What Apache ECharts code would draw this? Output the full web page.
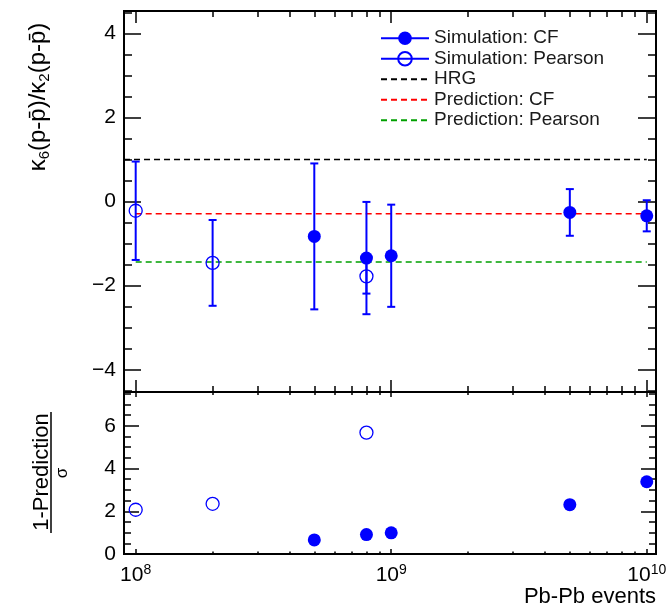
<!DOCTYPE html>
<html><head><meta charset="utf-8">
<script src="https://cdn.jsdelivr.net/npm/echarts@6/dist/echarts.min.js"></script>
<style>html,body{margin:0;padding:0;background:#fff}#c{width:668px;height:613px}</style>
</head><body><div id="c"></div>
<script>
// ---------------- data ----------------
const cfEvents = [5e8, 8e8, 1e9, 5e9, 1e10];
const cfValue = [-0.83, -1.345, -1.29, -0.26, -0.34];
const cfError = [1.735, 1.335, 1.215, 0.555, 0.37];
const cfSignificance = [0.66, 0.91, 0.99, 2.31, 3.38];

const pearsonEvents = [1e8, 2e8, 8e8];
const pearsonValue = [-0.22, -1.46, -1.78];
const pearsonError = [1.17, 1.02, 0.41];
const pearsonSignificance = [2.07, 2.35, 5.68];

const hrgLevel = 1.0;
const predictionCF = -0.29;
const predictionPearson = -1.44;
const hrgRange = [9e7, 1e10];
const predictionRange = [1e8, 1e10];

const xRange = [9e7, 1.087e10];
const yTopRange = [-4.53, 4.53];
const yBottomRange = [0, 7.58];

const xMajorTicks = [1e8, 1e9, 1e10];
const xMinorTicks = [2e8, 3e8, 4e8, 5e8, 6e8, 7e8, 8e8, 9e8, 2e9, 3e9, 4e9, 5e9, 6e9, 7e9, 8e9, 9e9];
const yTopMajorTicks = [-4, -2, 0, 2, 4];
const yTopMinorTicks = [-4.5, -4, -3.5, -3, -2.5, -2, -1.5, -1, -0.5, 0, 0.5, 1, 1.5, 2, 2.5, 3, 3.5, 4, 4.5];
const yBottomMajorTicks = [0, 2, 4, 6];
const yBottomMinorTicks = [0, 0.5, 1, 1.5, 2, 2.5, 3, 3.5, 4, 4.5, 5, 5.5, 6, 6.5, 7, 7.5];

const legendNames = ['Simulation: CF', 'Simulation: Pearson', 'HRG', 'Prediction: CF', 'Prediction: Pearson'];

// ---------------- style ----------------
const FONT = '"Liberation Sans", Arial, Helvetica, sans-serif';
const BLUE = '#0000ff';
const topRect = {left: 124, top: 11, width: 532, height: 381};
const botRect = {left: 124, top: 392, width: 532, height: 162};

function grid(rect) { return Object.assign({show: false, containLabel: false, outerBoundsMode: 'none'}, rect); }

function xAxis(gridIndex, position, ticks, len, withLabels) {
  return {
    type: 'log', logBase: 10, gridIndex, position, min: xRange[0], max: xRange[1],
    axisLine: {show: true, onZero: false, lineStyle: {color: '#000', width: 2}},
    axisTick: {show: true, inside: true, length: len, customValues: ticks, lineStyle: {color: '#000', width: 1.5}},
    axisLabel: withLabels ? {
      show: true, customValues: xMajorTicks, margin: 9,
      formatter: v => '{b|10}{s|' + Math.round(Math.log10(v)) + '}',
      rich: {
        b: {fontSize: 21, fontFamily: FONT, color: '#000', lineHeight: 24},
        s: {fontSize: 14, fontFamily: FONT, color: '#000', verticalAlign: 'top', lineHeight: 14}
      }
    } : {show: false},
    splitLine: {show: false}, minorTick: {show: false}, minorSplitLine: {show: false}
  };
}
function yAxis(gridIndex, position, range, ticks, len, labelTicks) {
  return {
    type: 'value', gridIndex, position, min: range[0], max: range[1],
    axisLine: {show: true, onZero: false, lineStyle: {color: '#000', width: 2}},
    axisTick: {show: true, inside: true, length: len, customValues: ticks, lineStyle: {color: '#000', width: 1.5}},
    axisLabel: labelTicks ? {
      show: true, customValues: labelTicks, margin: 8, fontSize: 21, fontFamily: FONT, color: '#000',
      formatter: v => v < 0 ? '\u2212' + Math.abs(v) : String(v)
    } : {show: false},
    splitLine: {show: false}, minorTick: {show: false}
  };
}

function errorBar(params, api) {
  const x = api.value(0);
  const lo = api.coord([x, api.value(1)]);
  const hi = api.coord([x, api.value(2)]);
  const half = 4;
  const style = {stroke: BLUE, lineWidth: 2};
  return {type: 'group', children: [
    {type: 'line', shape: {x1: lo[0], y1: lo[1], x2: hi[0], y2: hi[1]}, style},
    {type: 'line', shape: {x1: lo[0] - half, y1: lo[1], x2: lo[0] + half, y2: lo[1]}, style},
    {type: 'line', shape: {x1: hi[0] - half, y1: hi[1], x2: hi[0] + half, y2: hi[1]}, style}
  ]};
}

const hollow = {color: 'rgba(0,0,255,0)', borderColor: BLUE, borderWidth: 1.3, opacity: 1};
const filled = {color: BLUE, opacity: 1};
const noSymbol = {opacity: 0, color: 'rgba(0,0,0,0)', borderWidth: 0};

const chart = echarts.init(document.getElementById('c'), null, {renderer: 'canvas'});
chart.setOption({
  animation: false,
  backgroundColor: '#fff',
  grid: [grid(topRect), grid(topRect), grid(botRect), grid(botRect)],
  xAxis: [
    xAxis(0, 'bottom', xMajorTicks, 12, false), xAxis(0, 'top', xMajorTicks, 12, false),
    xAxis(1, 'bottom', xMinorTicks, 6, false), xAxis(1, 'top', xMinorTicks, 6, false),
    xAxis(2, 'bottom', xMajorTicks, 5, true), xAxis(2, 'top', xMajorTicks, 5, false),
    xAxis(3, 'bottom', xMinorTicks, 2.5, false), xAxis(3, 'top', xMinorTicks, 3, false)
  ],
  yAxis: [
    yAxis(0, 'left', yTopRange, yTopMajorTicks, 17, yTopMajorTicks), yAxis(0, 'right', yTopRange, yTopMajorTicks, 18, null),
    yAxis(1, 'left', yTopRange, yTopMinorTicks, 8, null), yAxis(1, 'right', yTopRange, yTopMinorTicks, 8, null),
    yAxis(2, 'left', yBottomRange, yBottomMajorTicks, 15, yBottomMajorTicks), yAxis(2, 'right', yBottomRange, yBottomMajorTicks, 15, null),
    yAxis(3, 'left', yBottomRange, yBottomMinorTicks, 7, null), yAxis(3, 'right', yBottomRange, yBottomMinorTicks, 7, null)
  ],
  legend: {
    orient: 'vertical', left: 375, top: 23, itemWidth: 48, itemHeight: 17, itemGap: 0,
    selectedMode: false,
    textStyle: {fontSize: 19, color: '#1a1a1a', fontFamily: FONT, padding: [0, 0, 0, 0], lineHeight: 20.5},
    data: [
      {name: legendNames[0], lineStyle: {width: 2, opacity: 1, type: 'solid', color: BLUE}},
      {name: legendNames[1], lineStyle: {width: 2, opacity: 1, type: 'solid', color: BLUE}},
      {name: legendNames[2], itemStyle: noSymbol},
      {name: legendNames[3], itemStyle: noSymbol},
      {name: legendNames[4], itemStyle: noSymbol}
    ]
  },
  series: [
    {name: 'HRG', type: 'line', xAxisIndex: 0, yAxisIndex: 0, data: hrgRange.map(x => [x, hrgLevel]),
     symbol: 'none', lineStyle: {color: '#000', width: 1.5, type: [6, 4]}, itemStyle: {color: '#000'}, z: 1},
    {name: 'Prediction: CF', type: 'line', xAxisIndex: 0, yAxisIndex: 0, data: predictionRange.map(x => [x, predictionCF]),
     symbol: 'none', lineStyle: {color: '#ff0000', width: 1.5, type: [6, 4]}, itemStyle: {color: '#ff0000'}, z: 1},
    {name: 'Prediction: Pearson', type: 'line', xAxisIndex: 0, yAxisIndex: 0, data: predictionRange.map(x => [x, predictionPearson]),
     symbol: 'none', lineStyle: {color: '#00a000', width: 1.5, type: [6, 4]}, itemStyle: {color: '#00a000'}, z: 1},
    {name: 'cf-err', type: 'custom', xAxisIndex: 0, yAxisIndex: 0, renderItem: errorBar, encode: {x: 0, y: [1, 2]}, z: 2,
     data: cfEvents.map((x, i) => [x, cfValue[i] - cfError[i], cfValue[i] + cfError[i]])},
    {name: 'pearson-err', type: 'custom', xAxisIndex: 0, yAxisIndex: 0, renderItem: errorBar, encode: {x: 0, y: [1, 2]}, z: 2,
     data: pearsonEvents.map((x, i) => [x, pearsonValue[i] - pearsonError[i], pearsonValue[i] + pearsonError[i]])},
    {name: 'Simulation: CF', type: 'line', xAxisIndex: 0, yAxisIndex: 0, data: cfEvents.map((x, i) => [x, cfValue[i]]),
     symbol: 'circle', symbolSize: 13, showSymbol: true, lineStyle: {width: 0, opacity: 0}, itemStyle: filled, z: 3},
    {name: 'Simulation: Pearson', type: 'line', xAxisIndex: 0, yAxisIndex: 0, data: pearsonEvents.map((x, i) => [x, pearsonValue[i]]),
     symbol: 'circle', symbolSize: 13, showSymbol: true, lineStyle: {width: 0, opacity: 0}, itemStyle: hollow, z: 3},
    {name: 'cf-sig', type: 'scatter', xAxisIndex: 4, yAxisIndex: 4, data: cfEvents.map((x, i) => [x, cfSignificance[i]]),
     symbol: 'circle', symbolSize: 13, itemStyle: filled, z: 3},
    {name: 'pearson-sig', type: 'scatter', xAxisIndex: 4, yAxisIndex: 4, data: pearsonEvents.map((x, i) => [x, pearsonSignificance[i]]),
     symbol: 'circle', symbolSize: 13, itemStyle: hollow, z: 3}
  ],
  graphic: [
    {type: 'text', x: 38, y: 97, rotation: Math.PI / 2, style: {
      text: '{t|\u03ba}{s|6}{t|(p-p\u0304)/\u03ba}{s|2}{t|(p-p\u0304)}', align: 'center', verticalAlign: 'middle',
      rich: {t: {fontSize: 24, fontFamily: FONT, fill: '#000', lineHeight: 28},
             s: {fontSize: 15, fontFamily: FONT, fill: '#000', verticalAlign: 'bottom', lineHeight: 17}}}},
    {type: 'text', x: 42, y: 472, rotation: Math.PI / 2, style: {
      text: '1-Prediction', fontSize: 22, fontFamily: FONT, fill: '#000', align: 'center', verticalAlign: 'middle'}},
    {type: 'line', shape: {x1: 51, y1: 412, x2: 51, y2: 533}, style: {stroke: '#000', lineWidth: 1.5}},
    {type: 'text', x: 62, y: 473, rotation: Math.PI / 2, style: {
      text: '\u03c3', fontSize: 17, fontFamily: FONT, fill: '#000', align: 'center', verticalAlign: 'middle'}},
    {type: 'text', x: 656, y: 597, style: {
      text: 'Pb-Pb events', fontSize: 22, fontFamily: FONT, fill: '#000', align: 'right', verticalAlign: 'middle'}}
  ]
});
</script>
</body></html>
